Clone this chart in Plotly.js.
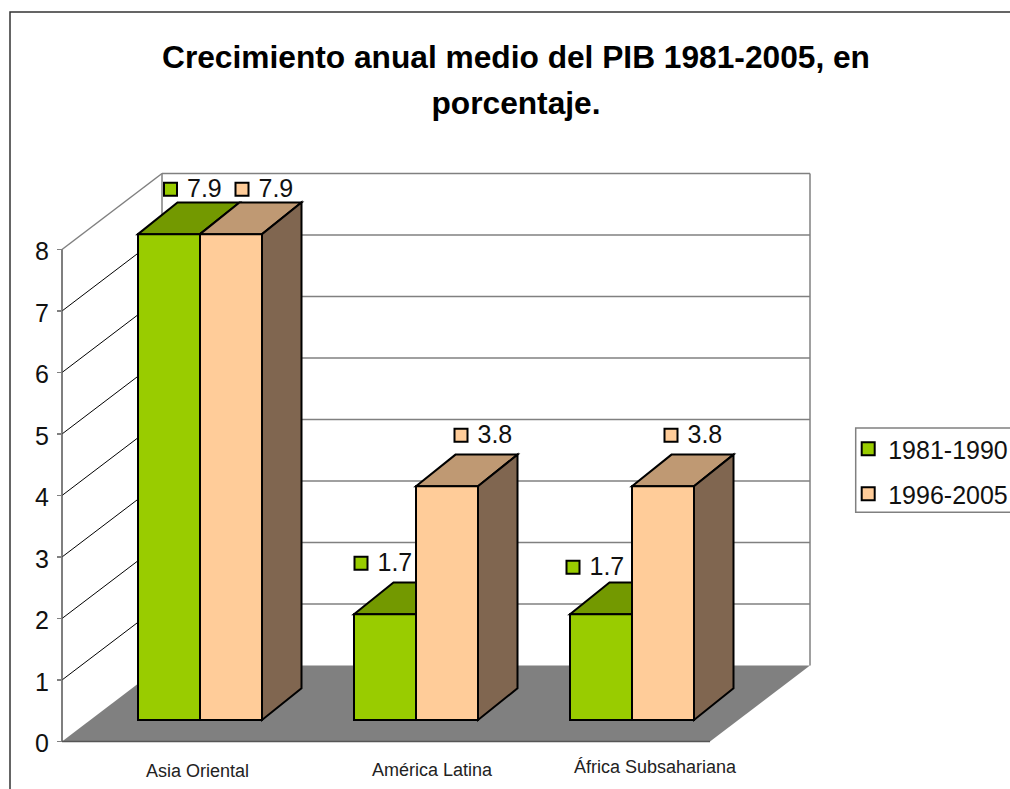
<!DOCTYPE html>
<html>
<head>
<meta charset="utf-8">
<script src="https://cdn.plot.ly/plotly-3.0.1.min.js"></script>
<style>html,body{margin:0;padding:0;background:#fff;overflow:hidden}#c{width:1010px;height:789px}</style>
</head>
<body>
<div id="c"></div>
<script>
// ---- data ----
const categories = ["Asia Oriental", "América Latina", "África Subsahariana"];
const series1Name = "1981-1990";
const series2Name = "1996-2005";
const series1 = [7.9, 1.72, 1.72];
const series2 = [7.9, 3.8, 3.8];
const valueTicks = [0, 1, 2, 3, 4, 5, 6, 7, 8];
const titleLines = ["Crecimiento anual medio del PIB 1981-2005, en", "porcentaje."];

// ---- geometry of the pseudo-3D scene (pixels of the 1010x789 page) ----
const W = 1010, H = 789;
const zeroPx = 741.5, unitPx = 61.5, groupPx = 216, group0Px = 200, barPx = 62;
const X = p => (p - group0Px) / groupPx;           // page px -> x axis
const Y = p => (zeroPx - p) / unitPx;              // page px -> y axis
const DX = 100 / groupPx, DY = 76 / unitPx;        // depth of the floor
const floorDepth = (741.5 - 720) / unitPx;         // bars stand in from the front edge
const barDX = 39.5 / groupPx, barDY = 31.7 / unitPx; // depth of a bar
const barW = barPx / groupPx;
const axisLeft = X(62), axisRight = X(710);
const FONT = "Liberation Sans, Arial, sans-serif";

const poly = pts => "M" + pts.map(p => p[0] + "," + p[1]).join("L") + "Z";
const seg = (x0, y0, x1, y1, color, width) => ({type: "line", xref: "x", yref: "y", layer: "below",
  x0, y0, x1, y1, line: {color, width}});
const face = (pts, fill, lw) => ({type: "path", xref: "x", yref: "y", layer: "below", path: poly(pts),
  fillcolor: fill, line: {color: "#000", width: lw === undefined ? 2 : lw}});

const GREY = "#808080", AXIS = "#555555";
const shapes = [];
// outer frame
shapes.push({type: "path", xref: "paper", yref: "paper", layer: "below",
  path: `M${10/W},0L${10/W},${1-12/H}L1,${1-12/H}`, line: {color: "#333", width: 1.5}});
// legend box
shapes.push({type: "rect", xref: "paper", yref: "paper", layer: "below",
  x0: 855.7/W, x1: 1012/W, y0: 1-512.3/H, y1: 1-428/H, fillcolor: "#fff", line: {color: GREY, width: 1.5}});
// floor
shapes.push(face([[axisLeft,0],[axisRight,0],[axisRight+DX,DY],[axisLeft+DX,DY]], GREY, 0));
// walls and grid
valueTicks.forEach(v => {
  const top = v === valueTicks[valueTicks.length-1];
  if (v > 0) shapes.push(seg(axisLeft, v, axisLeft+DX, v+DY, top ? GREY : "#000", top ? 1.5 : 1));
  if (v > 0) shapes.push(seg(axisLeft+DX, v+DY, axisRight+DX, v+DY, GREY, 1.5));
});
shapes.push(seg(axisLeft+DX, DY, axisLeft+DX, 8+DY, GREY, 1.5));
shapes.push(seg(axisRight+DX, DY, axisRight+DX, 8+DY, GREY, 1.5));
// axis lines
shapes.push(seg(axisLeft, 0, axisLeft, 8, AXIS, 1.5));
shapes.push(seg(axisLeft, 0, axisRight, 0, AXIS, 1.5));
// bar tops and sides, computed from the values
categories.forEach((c, i) => {
  const top1 = series1[i] + floorDepth, top2 = series2[i] + floorDepth;
  const l = i - barW, m = i, r = i + barW;
  shapes.push(face([[l,top1],[l+barDX,top1+barDY],[m+barDX,top1+barDY],[m,top1]], "#739900"));
  shapes.push(face([[m,top2],[m+barDX,top2+barDY],[r+barDX,top2+barDY],[r,top2]], "#BF9973"));
  shapes.push(face([[r,floorDepth],[r,top2],[r+barDX,top2+barDY],[r+barDX,floorDepth+barDY]], "#806650"));
});

// ---- label placement (page px relative to the bar's front top-left corner) ----
const label1Nudge = [[32.5,45],[7,51],[3,47]];
const label2Nudge = [[42,45],[45,51],[39,51]];
const labelGapX = 16.5 / groupPx, labelGapY = 1.5 / unitPx;
const labelY = (val, n) => val + floorDepth + n[1] / unitPx;
const keyTrace = (name, vals, nudge, color, leftOf) => ({
  type: "scatter", mode: "markers", name, cliponaxis: false,
  x: vals.map((v, i) => leftOf(i) + nudge[i][0] / groupPx),
  y: vals.map((v, i) => labelY(v, nudge[i])),
  marker: {symbol: "square", size: 13, color, line: {color: "#000", width: 2}},
  legendgroup: name, hoverinfo: "skip"
});
const textTrace = (name, vals, nudge, leftOf) => ({
  type: "scatter", mode: "text", name, cliponaxis: false, showlegend: false, legendgroup: name,
  x: vals.map((v, i) => leftOf(i) + nudge[i][0] / groupPx + labelGapX),
  y: vals.map((v, i) => labelY(v, nudge[i]) - labelGapY),
  text: vals.map(v => v.toFixed(1)), textposition: "middle right",
  textfont: {family: FONT, size: 25, color: "#111"}, hoverinfo: "skip"
});
const barTrace = (name, vals, color) => ({
  type: "bar", name, x: categories.map((c, i) => i), y: vals,
  base: vals.map(() => floorDepth), showlegend: false, legendgroup: name,
  marker: {color, line: {color: "#000", width: 2}}
});

const left1 = i => i - barW, left2 = i => i;
const traces = [
  barTrace(series1Name, series1, "#99CC00"),
  barTrace(series2Name, series2, "#FFCC99"),
  keyTrace(series1Name, series1, label1Nudge, "#99CC00", left1),
  keyTrace(series2Name, series2, label2Nudge, "#FFCC99", left2),
  textTrace(series1Name, series1, label1Nudge, left1),
  textTrace(series2Name, series2, label2Nudge, left2)
];

const catLabelPos = [[197,771],[432,770],[655.5,767]];
const annotations = categories.map((c, i) => ({
  text: c, xref: "x", yref: "y", x: X(catLabelPos[i][0]), y: Y(catLabelPos[i][1]),
  showarrow: false, xanchor: "center", yanchor: "middle",
  font: {family: FONT, size: 18, color: "#222"}
}));

const layout = {
  width: W, height: H,
  margin: {l: 0, r: 0, t: 0, b: 0, pad: 0, autoexpand: false},
  paper_bgcolor: "#fff", plot_bgcolor: "rgba(0,0,0,0)",
  font: {family: FONT, color: "#111"},
  title: {text: titleLines.map(t => '<span style="font-size:31.7px">' + t + '</span>').join("<br>"),
    font: {family: FONT, size: 35, color: "#000", weight: "bold"},
    x: 516 / W, xanchor: "center", xref: "paper", y: 1 - 68 / H, yanchor: "top", yref: "paper"},
  barmode: "group", bargap: 1 - 2 * barW, bargroupgap: 0,
  xaxis: {range: [X(0), X(W)], domain: [0, 1], visible: false, fixedrange: true},
  yaxis: {range: [Y(H), Y(0)], domain: [0, 1], anchor: "free", position: 62 / W,
    tickmode: "array", tickvals: valueTicks, ticktext: valueTicks.map(String),
    ticks: "outside", ticklen: 5, tickwidth: 1.5, tickcolor: GREY, ticklabelstandoff: 3, ticklabelshift: 2,
    tickfont: {family: FONT, size: 25, color: "#111"},
    showgrid: false, zeroline: false, showline: false, fixedrange: true},
  shapes, annotations,
  showlegend: true,
  legend: {x: 848.2 / W, y: 1 - 426 / H, xanchor: "left", yanchor: "top",
    bgcolor: "rgba(0,0,0,0)", borderwidth: 0, tracegroupgap: 9.5,
    itemwidth: 30, font: {family: FONT, size: 25, color: "#111"}, traceorder: "grouped"}
};
Plotly.newPlot("c", traces, layout, {displayModeBar: false, staticPlot: true});
</script>
</body>
</html>
